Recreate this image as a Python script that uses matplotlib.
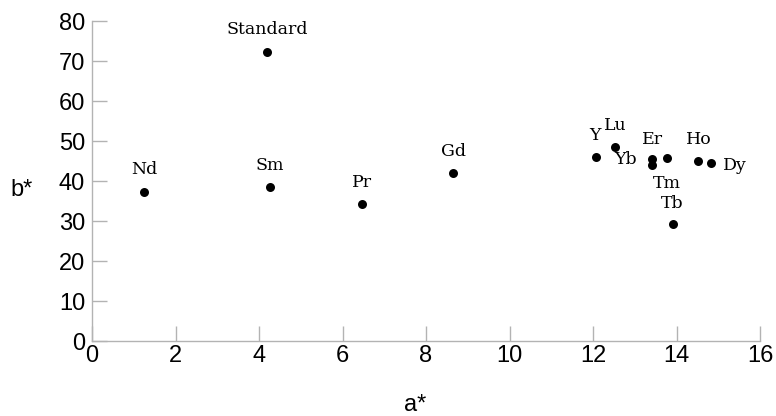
import matplotlib
matplotlib.use("Agg")
import matplotlib.pyplot as plt

names = ["Standard", "Nd", "Sm", "Pr", "Gd", "Y", "Lu", "Yb", "Er", "Tm", "Ho", "Dy", "Tb"]
a_vals = [4.19, 1.25, 4.26, 6.47, 8.65, 12.07, 12.53, 13.41, 13.78, 13.41, 14.52, 14.83, 13.92]
b_vals = [72.3, 37.3, 38.5, 34.3, 42.0, 46.0, 48.5, 45.4, 45.8, 43.9, 45.0, 44.5, 29.2]

x_ticks = [0, 2, 4, 6, 8, 10, 12, 14, 16]
y_ticks = [0, 10, 20, 30, 40, 50, 60, 70, 80]

# label offsets in pixels (dx, dy) relative to point
offsets = {
    "Standard": (0, 22), "Nd": (0, 22), "Sm": (0, 22), "Pr": (0, 21), "Gd": (0, 21),
    "Y": (-1, 22), "Lu": (0, 21), "Yb": (-26, 0), "Er": (-15, 18), "Tm": (15, -18),
    "Ho": (1, 21), "Dy": (24, -3), "Tb": (-1, 21),
}

fig = plt.figure(figsize=(7.76, 4.16), dpi=100)
ax = fig.add_axes([92/776, 1-341/416, (760-92)/776, (341-21)/416])

ax.scatter(a_vals, b_vals, s=42, color="black", zorder=3, linewidths=0)
for n, x, y in zip(names, a_vals, b_vals):
    dx, dy = offsets[n]
    ax.annotate(n, (x, y), xytext=(dx, dy), textcoords="offset pixels",
                ha="center", va="center", fontsize=12.5, family="DejaVu Serif", color="black")

ax.set_xlim(0, 16)
ax.set_ylim(0, 80)
ax.set_xticks(x_ticks)
ax.set_yticks(y_ticks)
ax.set_xticklabels([str(t) for t in x_ticks], family="Liberation Sans", fontsize=17)
ax.set_yticklabels([str(t) for t in y_ticks], family="Liberation Sans", fontsize=17)
ax.tick_params(direction="in", length=11, width=1, color="#b3b3b3")
ax.tick_params(axis="x", pad=3)
ax.tick_params(axis="y", pad=5)
for s in ["top", "right"]:
    ax.spines[s].set_visible(False)
for s in ["left", "bottom"]:
    ax.spines[s].set_color("#b3b3b3")
    ax.spines[s].set_linewidth(1)

fig.text(22/776, 1-190/416, "b*", ha="center", va="center", family="Liberation Sans", fontsize=17)
fig.text(415/776, 1-405/416, "a*", ha="center", va="center", family="Liberation Sans", fontsize=17)

fig.savefig("out.png", dpi=100)
